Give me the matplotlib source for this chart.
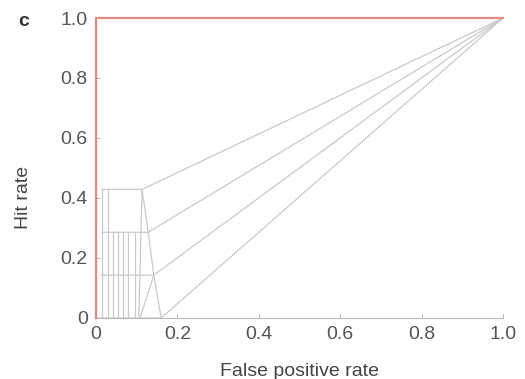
import matplotlib
matplotlib.use("Agg")
import matplotlib.pyplot as plt

plt.rcParams["font.family"] = ["Liberation Sans", "DejaVu Sans"]

# Data
hit_levels = [0.0, 1/7, 2/7, 3/7]
corner_fp = [0.160, 0.142, 0.128, 0.113]
left_fp = [0.0, 0.012, 0.015, 0.015]
stair_fp = [0.03, 0.042, 0.054, 0.066, 0.079, 0.096]
stair_top = [3/7, 2/7, 2/7, 2/7, 2/7, 2/7]
slant_top_fp = [0.113, 0.142]
slant_top_hit = [3/7, 1/7]
slant_bot_fp = [0.105, 0.108]
ideal_fp = [0, 0, 1]
ideal_hit = [0, 1, 1]
xticks = [0, 0.2, 0.4, 0.6, 0.8, 1.0]
xticklabels = ["0", "0.2", "0.4", "0.6", "0.8", "1.0"]
yticks = [0, 0.2, 0.4, 0.6, 0.8, 1.0]
yticklabels = ["0", "0.2", "0.4", "0.6", "0.8", "1.0"]

fig = plt.figure(figsize=(5.25, 3.79), dpi=100)
ax = fig.add_axes([0.183, 0.161, 0.775, 0.7915])

gray = "#c9c9c9"
lw = 0.9
for h, cf, lf in zip(hit_levels, corner_fp, left_fp):
    ax.plot([1, cf, lf], [1, h, h], color=gray, lw=lw, clip_on=False)
ax.plot([0.015, 0.015], [0, 3/7], color=gray, lw=lw)
for f, t in zip(stair_fp, stair_top):
    ax.plot([f, f], [0, t], color=gray, lw=lw)
for tf, th, bf in zip(slant_top_fp, slant_top_hit, slant_bot_fp):
    ax.plot([tf, bf], [th, 0], color=gray, lw=lw)
ax.plot(corner_fp, hit_levels, color=gray, lw=lw)

ax.plot(ideal_fp, ideal_hit, color="#e58a80", lw=1.6, clip_on=False, zorder=5)

ax.set_xlim(0, 1)
ax.set_ylim(0, 1)
ax.set_xticks(xticks)
ax.set_xticklabels(xticklabels)
ax.set_yticks(yticks)
ax.set_yticklabels(yticklabels)
for s in ["top", "right"]:
    ax.spines[s].set_visible(False)
ax.spines["left"].set_color("#999999")
ax.spines["bottom"].set_color("#bbbbbb")
ax.spines["left"].set_linewidth(0.8)
ax.spines["bottom"].set_linewidth(0.8)
ax.tick_params(direction="in", length=3, width=0.6, color="#aaaaaa",
               labelsize=14, labelcolor="#555555", pad=6)
ax.set_xlabel("False positive rate", fontsize=14, color="#444444", labelpad=14)
ax.set_ylabel("Hit rate", fontsize=14, color="#444444")
ax.yaxis.set_label_coords(-0.158, 0.403)
fig.text(24/525, 1 - 21/379, "c", fontsize=14, fontweight="bold", color="#333333",
         ha="center", va="center")

fig.savefig("out.png", dpi=100)
